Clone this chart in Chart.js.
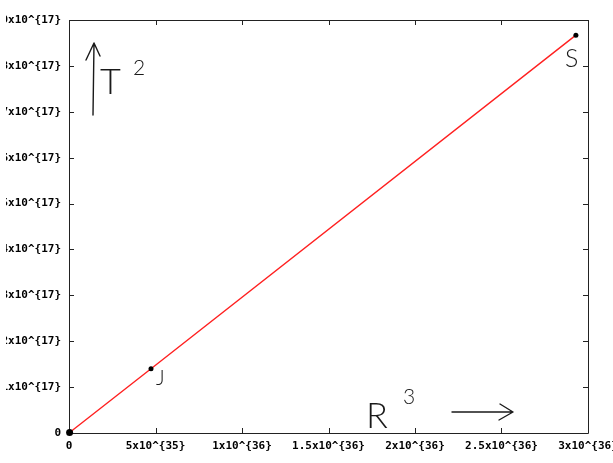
<!DOCTYPE html>
<html><head><meta charset="utf-8">
<script src="https://cdn.jsdelivr.net/npm/chart.js@4"></script>
<style>
html,body{margin:0;padding:0;background:#fff;overflow:hidden;width:613px;height:463px}
#wrap{position:absolute;left:6px;top:0;width:607px;height:463px;overflow:hidden}
#box{position:absolute;left:-6px;top:0;width:640px;height:463px}
</style></head><body>
<div id="wrap"><div id="box"><canvas id="c"></canvas></div></div>
<script>
// Data (R^3 in m^3, T^2 in s^2)
const pointNames = ["", "J", "S"];
const rCubed = [3.4e33, 4.74e35, 2.93e36];
const tSquared = [1.0e15, 1.40e17, 8.67e17];

const xTickValues = [0, 5e35, 1e36, 1.5e36, 2e36, 2.5e36, 3e36];
const xTickLabels = ["0", "5x10^{35}", "1x10^{36}", "1.5x10^{36}", "2x10^{36}", "2.5x10^{36}", "3x10^{36}"];
const yTickValues = [0, 1e17, 2e17, 3e17, 4e17, 5e17, 6e17, 7e17, 8e17, 9e17];
const yTickLabels = ["0", "1x10^{17}", "2x10^{17}", "3x10^{17}", "4x10^{17}", "5x10^{17}", "6x10^{17}", "7x10^{17}", "8x10^{17}", "9x10^{17}"];

const tickFont = {family: "'DejaVu Sans Mono', monospace", size: 11, weight: 'bold'};

const framePlugin = {
  id: 'frame',
  beforeDatasetsDraw(chart) {
    const {ctx, chartArea: a, scales: {x, y}} = chart;
    ctx.save();
    ctx.strokeStyle = '#222';
    ctx.lineWidth = 1;
    ctx.beginPath();
    ctx.rect(Math.round(a.left) + 0.5, Math.round(a.top) + 0.5, Math.round(a.right - a.left), Math.round(a.bottom - a.top));
    ctx.stroke();
    const tl = 5;
    ctx.beginPath();
    xTickValues.forEach(v => {
      const px = Math.round(x.getPixelForValue(v)) + 0.5;
      ctx.moveTo(px, a.bottom); ctx.lineTo(px, a.bottom - tl);
      ctx.moveTo(px, a.top); ctx.lineTo(px, a.top + tl);
    });
    yTickValues.forEach(v => {
      const py = Math.round(y.getPixelForValue(v)) + 0.5;
      ctx.moveTo(a.left, py); ctx.lineTo(a.left + tl, py);
      ctx.moveTo(a.right, py); ctx.lineTo(a.right - tl, py);
    });
    ctx.stroke();
    ctx.restore();
  }
};

const handPlugin = {
  id: 'hand',
  afterDraw(chart) {
    const {ctx, scales: {x, y}} = chart;
    ctx.save();
    ctx.strokeStyle = '#1a1a1a';
    ctx.fillStyle = '#1a1a1a';
    ctx.lineWidth = 1.4;
    ctx.lineCap = 'round';
    ctx.lineJoin = 'round';
    // up arrow near T^2
    ctx.beginPath();
    ctx.moveTo(93, 115); ctx.lineTo(94, 43);
    ctx.moveTo(86, 60); ctx.lineTo(94, 43); ctx.lineTo(100, 56);
    // right arrow near R^3
    ctx.moveTo(452, 412); ctx.lineTo(513, 412);
    ctx.moveTo(500, 404); ctx.lineTo(513, 412); ctx.lineTo(499, 420);
    ctx.stroke();
    ctx.textBaseline = 'alphabetic';
    ctx.font = "300 36px Lato, 'Open Sans', sans-serif";
    ctx.fillText('T', 100, 94);
    ctx.fillText('R', 366, 428);
    ctx.font = "300 21px Lato, 'Open Sans', sans-serif";
    ctx.fillText('2', 133, 75);
    ctx.fillText('3', 403, 404);
    // point labels
    pointNames.forEach((n, i) => {
      if (!n) return;
      const px = x.getPixelForValue(rCubed[i]);
      const py = y.getPixelForValue(tSquared[i]);
      if (i === pointNames.length - 1) {
        ctx.font = "300 25px Lato, 'Open Sans', sans-serif";
        ctx.fillText(n, px - 11, py + 32);
      } else {
        ctx.font = "300 21px Lato, 'Open Sans', sans-serif";
        ctx.fillText(n, px + 5, py + 16);
      }
    });
    ctx.restore();
  }
};

new Chart(document.getElementById('c'), {
  type: 'scatter',
  data: {
    datasets: [{
      data: rCubed.map((r, i) => ({x: r, y: tSquared[i]})),
      showLine: true,
      clip: false,
      borderColor: '#ff2020',
      borderWidth: 1.4,
      backgroundColor: '#000',
      pointBackgroundColor: '#000',
      pointBorderColor: '#000',
      pointRadius: [3.5, 2.5, 2.5],
      pointBorderWidth: 0,
      tension: 0
    }]
  },
  options: {
    responsive: true,
    maintainAspectRatio: false,
    animation: false,
    layout: {padding: {left: 0, right: 52, top: 20, bottom: 0}},
    plugins: {legend: {display: false}, tooltip: {enabled: false}},
    scales: {
      x: {
        type: 'linear', min: 0, max: 3e36,
        afterBuildTicks: s => { s.ticks = xTickValues.map(v => ({value: v})); },
        afterFit: s => { s.height = 30; },
        grid: {display: false, drawTicks: false},
        border: {display: false},
        ticks: {callback: (v, i) => xTickLabels[i], font: tickFont, color: '#000', padding: 7, maxRotation: 0, autoSkip: false}
      },
      y: {
        type: 'linear', min: 0, max: 9e17,
        afterBuildTicks: s => { s.ticks = yTickValues.map(v => ({value: v})); },
        afterFit: s => { s.width = 69; },
        grid: {display: false, drawTicks: false},
        border: {display: false},
        ticks: {callback: (v, i) => yTickLabels[i], font: tickFont, color: '#000', padding: 8, autoSkip: false}
      }
    }
  },
  plugins: [framePlugin, handPlugin]
});
</script>
</body></html>
